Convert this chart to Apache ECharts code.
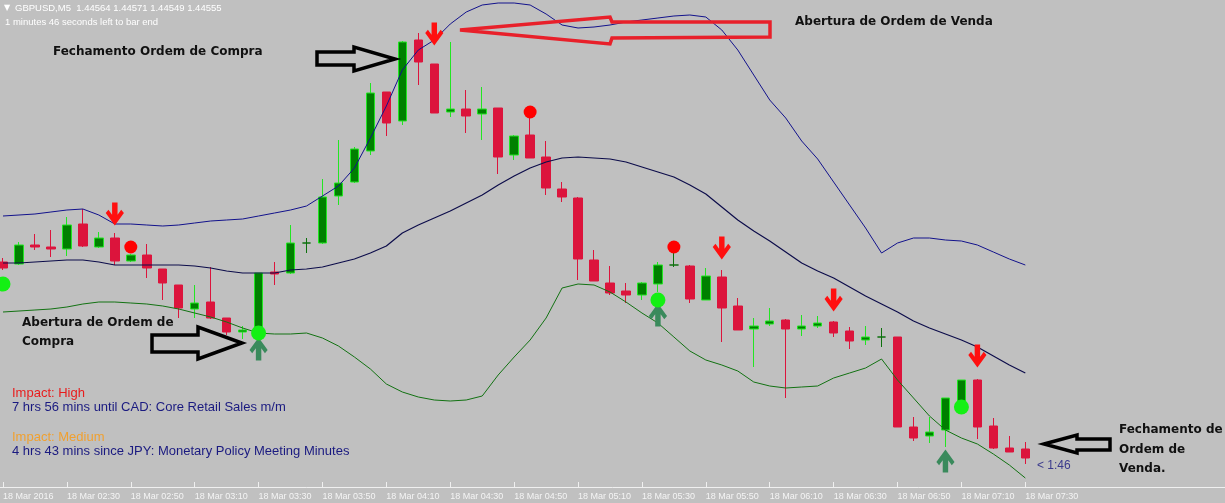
<!DOCTYPE html>
<html>
<head>
<meta charset="utf-8">
<script src="https://cdn.jsdelivr.net/npm/echarts@6/dist/echarts.min.js"></script>
<style>
html,body{margin:0;padding:0;background:#c0c0c0;}
#chart{width:1225px;height:503px;}
</style>
</head>
<body>
<div id="chart"></div>
<script>
// ---- DATA (GBPUSD M5, 18 Mar 2016) ----
const tickLabels = ['18 Mar 2016','18 Mar 02:30','18 Mar 02:50','18 Mar 03:10','18 Mar 03:30','18 Mar 03:50','18 Mar 04:10','18 Mar 04:30','18 Mar 04:50','18 Mar 05:10','18 Mar 05:30','18 Mar 05:50','18 Mar 06:10','18 Mar 06:30','18 Mar 06:50','18 Mar 07:10','18 Mar 07:30'];

const opens  = [1.44751,1.44749,1.44768,1.44766,1.44764,1.44789,1.44766,1.44775,1.44752,1.44758,1.44744,1.44728,1.44704,1.44711,1.44695,1.44681,1.44680,1.44741,1.44740,1.44770,1.44770,1.44817,1.44831,1.44862,1.44921,1.44892,1.44973,1.44949,1.44901,1.44904,1.44899,1.44905,1.44858,1.44878,1.44856,1.44824,1.44815,1.44753,1.44730,1.44722,1.44718,1.44729,1.44748,1.44747,1.44713,1.44736,1.44707,1.44684,1.44689,1.44693,1.44684,1.44687,1.44691,1.44682,1.44673,1.44676,1.44676,1.44586,1.44577,1.44583,1.44606,1.44633,1.44587,1.44565,1.44564];
const closes = [1.44745,1.44768,1.44766,1.44764,1.44788,1.44767,1.44775,1.44752,1.44758,1.44745,1.44730,1.44705,1.44710,1.44695,1.44681,1.44683,1.44740,1.44739,1.44770,1.44770,1.44816,1.44830,1.44864,1.44920,1.44890,1.44971,1.44951,1.44900,1.44904,1.44897,1.44904,1.44856,1.44877,1.44855,1.44825,1.44816,1.44754,1.44732,1.44720,1.44718,1.44730,1.44748,1.44748,1.44714,1.44737,1.44705,1.44683,1.44687,1.44692,1.44684,1.44687,1.44690,1.44680,1.44672,1.44676,1.44676,1.44586,1.44575,1.44581,1.44615,1.44633,1.44586,1.44565,1.44561,1.44555];
const highs  = [1.44755,1.44771,1.44779,1.44783,1.44796,1.44804,1.44781,1.44780,1.44759,1.44769,1.44744,1.44728,1.44728,1.44746,1.44695,1.44687,1.44740,1.44751,1.44788,1.44775,1.44834,1.44873,1.44866,1.44930,1.44921,1.44972,1.44980,1.44949,1.44971,1.44923,1.44926,1.44905,1.44878,1.44896,1.44872,1.44831,1.44816,1.44763,1.44747,1.44730,1.44731,1.44751,1.44761,1.44748,1.44745,1.44743,1.44715,1.44695,1.44705,1.44694,1.44698,1.44697,1.44692,1.44686,1.44687,1.44685,1.44676,1.44596,1.44596,1.44615,1.44633,1.44634,1.44595,1.44577,1.44571];
const lows   = [1.44743,1.44748,1.44763,1.44756,1.44757,1.44766,1.44765,1.44748,1.44751,1.44735,1.44713,1.44695,1.44695,1.44694,1.44678,1.44674,1.44678,1.44728,1.44739,1.44760,1.44769,1.44808,1.44830,1.44858,1.44877,1.44888,1.44928,1.44900,1.44896,1.44880,1.44873,1.44839,1.44853,1.44855,1.44818,1.44811,1.44733,1.44732,1.44718,1.44710,1.44713,1.44721,1.44746,1.44710,1.44713,1.44671,1.44683,1.44646,1.44687,1.44615,1.44677,1.44685,1.44676,1.44664,1.44668,1.44666,1.44586,1.44572,1.44570,1.44566,1.44606,1.44574,1.44564,1.44561,1.44549];

const bandUpper  = [1.44797,1.44798,1.44799,1.44801,1.44803,1.44804,1.44798,1.44789,1.44789,1.44788,1.44787,1.44788,1.44790,1.44792,1.44793,1.44794,1.44797,1.44800,1.44803,1.44807,1.44817,1.44827,1.44845,1.44875,1.44907,1.44943,1.44963,1.44973,1.44989,1.45001,1.45008,1.45010,1.45010,1.45008,1.44999,1.44988,1.44985,1.44986,1.44988,1.44991,1.44993,1.44995,1.44997,1.44998,1.44996,1.44983,1.44963,1.44938,1.44913,1.44895,1.44872,1.44854,1.44831,1.44808,1.44785,1.44760,1.44770,1.44775,1.44775,1.44773,1.44772,1.44768,1.44761,1.44754,1.44748];
const bandMiddle = [1.44750,1.44750,1.44751,1.44752,1.44753,1.44753,1.44751,1.44748,1.44748,1.44748,1.44748,1.44748,1.44747,1.44745,1.44742,1.44740,1.44740,1.44740,1.44743,1.44744,1.44746,1.44750,1.44754,1.44760,1.44767,1.44780,1.44788,1.44795,1.44802,1.44810,1.44818,1.44828,1.44837,1.44845,1.44851,1.44855,1.44856,1.44855,1.44854,1.44851,1.44846,1.44841,1.44836,1.44828,1.44819,1.44806,1.44793,1.44782,1.44772,1.44761,1.44750,1.44742,1.44735,1.44726,1.44717,1.44709,1.44701,1.44692,1.44685,1.44679,1.44673,1.44666,1.44657,1.44648,1.44640];
const bandLower  = [1.44701,1.44702,1.44703,1.44704,1.44706,1.44709,1.44711,1.44711,1.44710,1.44709,1.44707,1.44704,1.44700,1.44696,1.44691,1.44685,1.44680,1.44679,1.44679,1.44680,1.44675,1.44667,1.44656,1.44644,1.44629,1.44621,1.44616,1.44613,1.44612,1.44613,1.44617,1.44638,1.44656,1.44673,1.44695,1.44725,1.44729,1.44728,1.44721,1.44711,1.44700,1.44690,1.44676,1.44662,1.44653,1.44648,1.44642,1.44631,1.44627,1.44625,1.44626,1.44627,1.44635,1.44640,1.44645,1.44654,1.44633,1.44615,1.44597,1.44583,1.44575,1.44569,1.44559,1.44548,1.44535];

// signal markers: [bar index, price]
const sellArrows = [[7,1.44799],[27,1.44979],[45,1.44765],[52,1.44713],[61,1.44657]];
const buyArrows  = [[16,1.44664],[41,1.44698],[59,1.44552]];
const redDots    = [[8,1.44766],[33,1.44901],[42,1.44766]];
const limeDots   = [[0,1.44729],[16,1.44680],[41,1.44713],[60,1.44606]];

const priceMax = 1.45013, priceMin = 1.44526;
const totalSlots = 77;

// ---- build ----
const categories = [];
for (let i = 0; i < totalSlots; i++) {
  const m = 2*60 + 10 + 5*i;
  categories.push(String(Math.floor(m/60)).padStart(2,'0') + ':' + String(m%60).padStart(2,'0'));
}
const candleData = opens.map((o,i)=>[o, closes[i], lows[i], highs[i]]);
const showTick = (i)=> i % 4 === 0 && i/4 < tickLabels.length;

const downPath = 'path://M7,0 L13,0 L13,11.6 L17,7 L20,10 L10,22 L0,10 L3,7 L7,11.6 Z';
const upPath   = 'path://M7,22 L13,22 L13,10.4 L17,15 L20,12 L10,0 L0,12 L3,15 L7,10.4 Z';

const boldFont = 'bold 12px "DejaVu Sans", Verdana, sans-serif';
const newsFont = '13px "Liberation Sans", Arial, sans-serif';

const chart = echarts.init(document.getElementById('chart'), null, {renderer:'canvas'});
chart.setOption({
  backgroundColor:'#c0c0c0',
  animation:false,
  grid:{left:1, right:8, top:0, bottom:16, containLabel:false},
  xAxis:{
    type:'category', data:categories, boundaryGap:false,
    axisLine:{show:false},
    axisTick:{show:true, inside:true, length:5, interval:(i)=>showTick(i), lineStyle:{color:'#f0f0f0'}},
    axisLabel:{show:true, interval:(i)=>showTick(i), align:'left', margin:5,
      color:'#f4f4f4', fontFamily:'"Liberation Sans", Arial, sans-serif', fontSize:9,
      formatter:(v,i)=> showTick(i) ? tickLabels[i/4] : ''},
    splitLine:{show:false}
  },
  yAxis:{type:'value', min:priceMin, max:priceMax, show:false, scale:true, splitLine:{show:false}},
  series:[
    {type:'candlestick', data:candleData, barWidth:9, z:2, clip:false,
     itemStyle:{color:'#008000', color0:'#dc143c', borderColor:'#22e622', borderColor0:'#dc143c', borderColorDoji:'#0c700c', borderWidth:1}},
    {type:'line', data:bandUpper, symbol:'none', smooth:false, z:3, clip:false, lineStyle:{color:'#12128c', width:1}},
    {type:'line', data:bandMiddle, symbol:'none', smooth:false, z:3, clip:false, lineStyle:{color:'#0c0c4a', width:1.2}},
    {type:'line', data:bandLower, symbol:'none', smooth:false, z:3, clip:false, lineStyle:{color:'#127212', width:1}},
    {type:'scatter', data:sellArrows, symbol:downPath, symbolSize:[20,23], symbolKeepAspect:true, z:5, clip:false, itemStyle:{color:'#ff1010', opacity:1}},
    {type:'scatter', data:buyArrows, symbol:upPath, symbolSize:[20,23], symbolKeepAspect:true, z:5, clip:false, itemStyle:{color:'#3a8a5c', opacity:1}},
    {type:'scatter', data:redDots, symbol:'circle', symbolSize:13, z:5, clip:false, itemStyle:{color:'#ff0000', opacity:1}},
    {type:'scatter', data:limeDots, symbol:'circle', symbolSize:15, z:5, clip:false, itemStyle:{color:'#14f014', opacity:1}}
  ],
  graphic:[
    // time-scale border line
    {type:'line', shape:{x1:0, y1:487.5, x2:1225, y2:487.5}, style:{stroke:'#f0f0f0', lineWidth:1}},
    // header
    {type:'text', x:4, y:8, style:{text:'▼', font:'8px "DejaVu Sans"', fill:'#ffffff', verticalAlign:'middle'}},
    {type:'text', x:15, y:8, style:{text:'GBPUSD,M5  1.44564 1.44571 1.44549 1.44555', font:'9.5px "Liberation Sans", Arial, sans-serif', fill:'#ffffff', verticalAlign:'middle'}},
    {type:'text', x:5, y:22, style:{text:'1 minutes 46 seconds left to bar end', font:'9.5px "Liberation Sans", Arial, sans-serif', fill:'#ffffff', verticalAlign:'middle'}},
    // news
    {type:'text', x:12, y:393, style:{text:'Impact: High', font:newsFont, fill:'#e81c1c', verticalAlign:'middle'}},
    {type:'text', x:12, y:407, style:{text:'7 hrs 56 mins until CAD: Core Retail Sales m/m', font:newsFont, fill:'#1a1a80', verticalAlign:'middle'}},
    {type:'text', x:12, y:437, style:{text:'Impact: Medium', font:newsFont, fill:'#f0a030', verticalAlign:'middle'}},
    {type:'text', x:12, y:451, style:{text:'4 hrs 43 mins since JPY: Monetary Policy Meeting Minutes', font:newsFont, fill:'#1a1a80', verticalAlign:'middle'}},
    {type:'text', x:1037, y:466, style:{text:'< 1:46', font:'12px "Liberation Sans", Arial, sans-serif', fill:'#3a3a8c', verticalAlign:'middle'}},
    // annotation texts
    {type:'text', x:53, y:52, style:{text:'Fechamento Ordem de Compra', font:boldFont, fill:'#111', verticalAlign:'middle'}},
    {type:'text', x:795, y:22, style:{text:'Abertura de Ordem de Venda', font:boldFont, fill:'#111', verticalAlign:'middle'}},
    {type:'text', x:22, y:323, style:{text:'Abertura de Ordem de', font:boldFont, fill:'#111', verticalAlign:'middle'}},
    {type:'text', x:22, y:342, style:{text:'Compra', font:boldFont, fill:'#111', verticalAlign:'middle'}},
    {type:'text', x:1119, y:430, style:{text:'Fechamento de', font:boldFont, fill:'#111', verticalAlign:'middle'}},
    {type:'text', x:1119, y:450, style:{text:'Ordem de', font:boldFont, fill:'#111', verticalAlign:'middle'}},
    {type:'text', x:1119, y:469, style:{text:'Venda.', font:boldFont, fill:'#111', verticalAlign:'middle'}},
    // annotation arrows
    {type:'polygon', z:10, shape:{points:[[317,52],[354,52],[354,47],[395,59],[354,71],[354,65],[317,65]]}, style:{fill:null, stroke:'#000', lineWidth:3.5}},
    {type:'polygon', z:10, shape:{points:[[152,335],[198,335],[198,327],[242,343],[198,359],[198,352],[152,352]]}, style:{fill:null, stroke:'#000', lineWidth:3.5}},
    {type:'polygon', z:10, shape:{points:[[1044,444],[1077,435],[1077,439],[1110,439],[1110,450],[1077,450],[1077,453]]}, style:{fill:null, stroke:'#000', lineWidth:3.5}},
    {type:'polygon', z:10, shape:{points:[[460,30],[610,17],[612,22],[770,22],[770,37],[612,38],[610,44]]}, style:{fill:null, stroke:'#e8202a', lineWidth:3.5}}
  ]
});
</script>
</body>
</html>
